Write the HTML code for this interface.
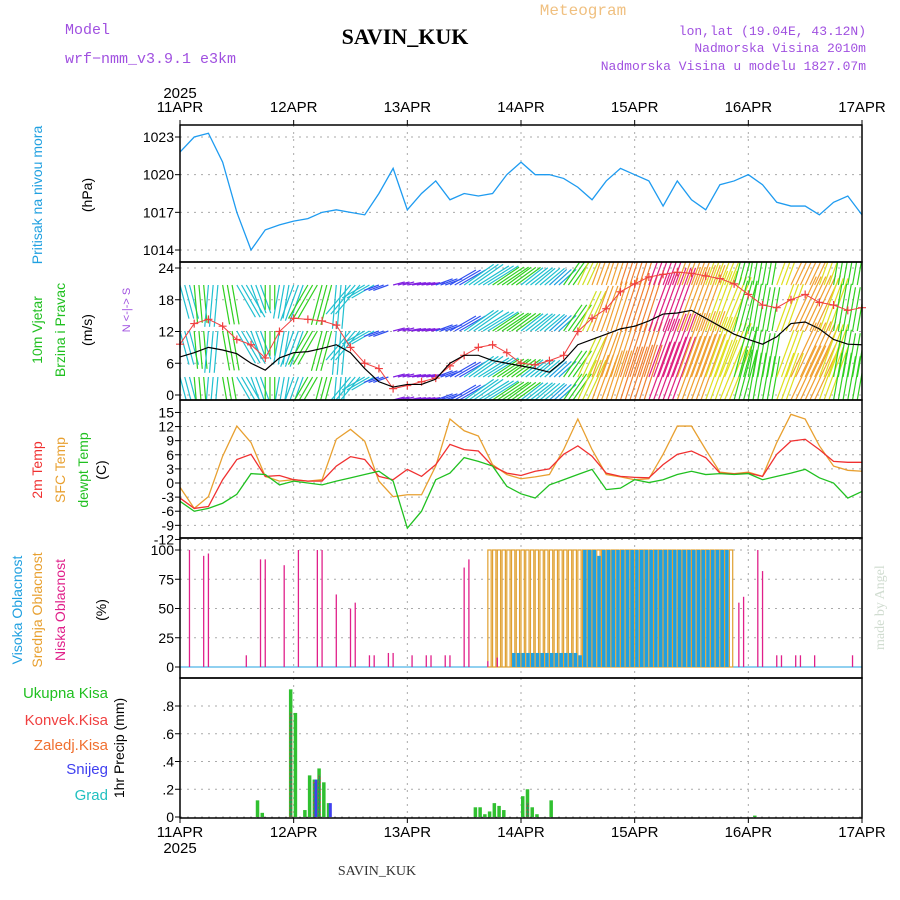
<!DOCTYPE html>
<html><head><meta charset="utf-8"><style>
body{margin:0;background:#fff;}
svg{display:block;font-family:"Liberation Sans",sans-serif;}
</style></head><body>
<svg id="c" width="900" height="900" viewBox="0 0 900 900" xmlns="http://www.w3.org/2000/svg">
<defs><clipPath id="wclip"><rect x="180" y="262" width="682" height="138"/></clipPath></defs>
<text x="65" y="34" font-size="15" fill="#a050e0" font-family="Liberation Mono,monospace">Model</text>
<text x="65" y="63" font-size="15" fill="#a050e0" font-family="Liberation Mono,monospace">wrf−nmm_v3.9.1 e3km</text>
<text x="405" y="44" font-size="22" font-weight="bold" text-anchor="middle" font-family="Liberation Serif,serif">SAVIN_KUK</text>
<text x="583" y="15" font-size="16" fill="#f0c080" text-anchor="middle" font-family="Liberation Mono,monospace">Meteogram</text>
<text x="866" y="35" font-size="13" fill="#a050e0" text-anchor="end" font-family="Liberation Mono,monospace">lon,lat (19.04E, 43.12N)</text>
<text x="866" y="52" font-size="13" fill="#a050e0" text-anchor="end" font-family="Liberation Mono,monospace">Nadmorska Visina 2010m</text>
<text x="866" y="70" font-size="13" fill="#a050e0" text-anchor="end" font-family="Liberation Mono,monospace">Nadmorska Visina u modelu 1827.07m</text>
<text x="180" y="98" font-size="15" text-anchor="middle">2025</text>
<text x="180" y="853" font-size="15" text-anchor="middle">2025</text>
<text x="377" y="875" font-size="14" text-anchor="middle" fill="#333" font-family="Liberation Serif,serif">SAVIN_KUK</text>
<text transform="translate(884,650) rotate(-90)" font-size="14" fill="#d0dcd0" font-family="Liberation Serif,serif">made by Angel</text>
<g id="g"></g>
</svg>
<script>
const dayLabels=["11APR","12APR","13APR","14APR","15APR","16APR","17APR"];
const pressure=[1021.8,1023,1023.3,1021,1017,1014,1015.6,1016,1016.3,1016.5,1017,1017.2,1017,1016.8,1018.5,1020.5,1017.2,1018.5,1019.5,1018,1018.5,1018.3,1018.5,1020,1021,1020,1020,1019.7,1019,1018,1019.5,1020.5,1020,1019.5,1017.5,1019.5,1018,1017.2,1019.2,1019.5,1020,1019.2,1017.8,1017.5,1017.5,1016.8,1017.8,1018.3,1016.8];
const windSpeed=[7.2,8,9,8.5,7.8,6,4.7,7,8,8.2,8.8,9.5,8,5,2.5,1.5,2,2,3,6,7.5,7.5,6.5,6,5.5,5,4.3,6.5,9.5,10.5,11.5,12.5,13,14,15.3,15.5,16,14.5,13,11.5,10.5,9.6,11,13.5,13.8,12.5,10.5,9.6,9.5];
const windGust=[9.6,13.5,14.3,13,10.5,9.5,7,12,14.5,14.3,14,13.2,9,6,5,1.2,1.8,2.5,3.2,5.5,7.5,9,9.5,8,6,5.7,6.5,7.5,12,14.5,16.3,19.5,21,22.3,22.8,23.2,23,22.5,22,21,19,17,16.5,18,19,17.5,17,16,16.5];
const windDir=[345,355,5,350,330,340,0,10,20,30,15,5,40,60,70,255,260,260,250,240,235,238,236,234,232,230,228,215,205,200,198,198,198,200,200,200,200,200,202,195,190,190,200,205,205,200,190,190,190];
const barbColors=["#20c0d0","#30d020","#20c0d0","#30d020","#20c0d0","#20c0d0","#30d020","#20c0d0","#20c0d0","#30d020","#30d020","#20c0d0","#20c0d0","#20c0d0","#3050f0","#8020e0","#8020e0","#8020e0","#3050f0","#3050f0","#20c0d0","#20c0d0","#30d020","#30d020","#20c0d0","#20c0d0","#20a0e0","#30d020","#d0e020","#f0a030","#f0a030","#f08030","#f08030","#e02080","#e02080","#f0a030","#f0a030","#e0e020","#e0e020","#30d020","#30d020","#30d020","#e0e020","#f0a030","#f0a030","#e0e020","#30d020","#30d020","#30d020"];
const temp2m=[-3.2,-5.4,-5,0.7,5,6.1,1.4,1.6,0.7,0.4,0.4,3.6,5.6,5,1.4,0.7,2.9,1.4,3.9,8.2,7.1,6.8,3.6,2.1,1.6,2.5,3,6.1,7.9,5.7,2.1,1.4,1.2,1.1,3.9,6.1,6.8,5.4,2.1,1.9,2.1,1.4,6.1,8.9,9.3,7.1,4.6,4.4,4.4];
const tempSfc=[-0.9,-5.4,-2.9,5.7,12.1,8.6,1.4,0.4,0.7,0.4,0.7,9.3,11.4,8.9,0.4,-2.9,-2.5,-2.5,3.6,13.6,11.1,10,3.9,1.8,0.9,1.3,1.8,7.1,13.6,7.1,1.8,1.3,0.7,0.9,6.1,12.1,12.1,7.1,2.3,2,2.3,1.4,8.6,14.6,13.6,7.9,3.6,2.7,2.5];
const dewpt=[-3.9,-6,-5.4,-4.3,-2.4,2,1.8,-0.4,0.4,0,-0.4,0.4,1.1,1.8,2.5,0.4,-9.6,-6,0.7,2.1,5.4,4.6,3.6,-0.7,-2.3,-3.2,-0.4,0.7,1.8,2.9,-1.4,-1.1,0.7,0.1,0.7,1.8,2.5,1.8,2,1.8,2,0.7,1.4,2.1,2.9,1.1,0,-3.2,-1.8];
const lowHours=[2,5,6,14,17,18,22,25,29,30,33,36,37,40,41,44,45,49,52,53,56,57,60,61,65,67,118,119,122,123,126,127,130,131,134,142];
const lowVals=[100,95,97,10,92,92,87,100,100,100,62,50,55,10,10,12,12,10,10,10,10,10,85,92,5,8,55,60,100,82,10,10,10,10,10,10];
const midStart=65;
const midVals=[100,100,100,100,100,100,100,100,100,100,100,100,100,100,100,100,100,100,100,100,100,100,100,100,100,100,100,100,100,100,100,100,100,100,100,100,100,100,100,100,100,100,100,100,100,100,100,100,100,100,100,100];
const highStart=70;
const highVals=[12,12,12,12,12,12,12,12,12,12,12,12,12,12,10,100,100,100,95,100,100,100,100,100,100,100,100,100,100,100,100,100,100,100,100,100,100,100,100,100,100,100,100,100,100,100];
const precipHours=[16,17,23,24,26,27,28,29,30,31,62,63,64,65,66,67,68,72,73,74,75,78,121];
const precipTotal=[0.12,0.03,0.92,0.75,0.05,0.3,0.27,0.35,0.25,0.1,0.07,0.07,0.02,0.04,0.1,0.08,0.05,0.15,0.2,0.07,0.02,0.12,0.01];
const precipConv=[0,0,0.75,0,0,0,0.25,0.3,0,0,0,0,0,0,0,0,0,0,0.1,0,0,0,0];
const precipSnow=[0,0,0,0,0,0,0.27,0,0,0.1,0,0,0,0,0,0,0,0,0,0,0,0,0];

const NS='http://www.w3.org/2000/svg',G=document.getElementById('g');
const X0=180,X1=862;
const xh=h=>X0+(X1-X0)*h/144;
function el(t,a,p){const e=document.createElementNS(NS,t);for(const k in a)e.setAttribute(k,a[k]);(p||G).appendChild(e);return e;}
const panels=[[125,262],[262,400],[400,538],[538,678],[678,818]];
const yP=v=>137+(1023-v)*(250-137)/9;
const yW=v=>395-v*(395-268)/24;
const yT=v=>483-v*(538-411)/27;
const yC=v=>667-v*(667-550)/100;
const yR=v=>817-v*(817-706)/0.8;
panels.forEach(([a,b])=>{
  for(let d=1;d<6;d++){const l=el('line',{x1:xh(d*24),x2:xh(d*24),y1:a,y2:b,stroke:'#aaa','stroke-dasharray':'2,5'});}
});
function hgrid(vals,f,fmt){vals.forEach(v=>{const y=f(v);
 const l=el('line',{x1:X0,x2:X1,y1:y,y2:y,stroke:'#aaa','stroke-dasharray':'2,5'});
 el('line',{x1:X0-5,x2:X0,y1:y,y2:y,stroke:'#000'});
 const t=el('text',{x:X0-6,y:y+5,'font-size':14,'text-anchor':'end'});t.textContent=fmt?fmt(v):v;});}
const pTicks=[1014,1017,1020,1023],wTicks=[0,6,12,18,24],tTicks=[-12,-9,-6,-3,0,3,6,9,12,15],cTicks=[0,25,50,75,100],rTicks=[0,0.2,0.4,0.6,0.8];
hgrid(pTicks,yP);hgrid(wTicks,yW);hgrid(tTicks,yT);hgrid(cTicks,yC);hgrid(rTicks,yR,v=>v===0?'0':String(v).replace(/^0/,''));
const line=(arr,f,col,w,name)=>{const p=el('polyline',{points:arr.map((v,i)=>xh(i*3)+','+f(v)).join(' '),fill:'none',stroke:col,'stroke-width':w||1.3});return p;};
line(pressure,yP,'#1e9bf0',1.3,'pressure-line');
// wind barbs
const WG=el('g',{'clip-path':'url(#wclip)'});
const rows=[285,331,377,400];
windDir.forEach((d,i)=>{const s=windSpeed[i];const col=barbColors[i];
 const r=d*Math.PI/180, L=Math.min(70,4*s+6);const dx=-Math.sin(r)*L, dy=Math.cos(r)*L;
 for(const ry of rows){ if(ry===400&&dy>0)continue;
  for(let k=0;k<3;k++){const x=xh(i*3+k);
  const b=el('line',{x1:x,y1:ry,x2:x+dx,y2:ry+dy,stroke:col,'stroke-width':1.2},WG);
  }}
});
line(windGust,yW,'#f04040',1,'wind-gust-line');
windGust.forEach((v,i)=>{const x=xh(i*3),y=yW(v);el('path',{d:`M${x-4},${y}h8M${x},${y-4}v8`,stroke:'#f04040','stroke-width':1.2});});
line(windSpeed,yW,'#000',1.2,'wind-speed-line');
line(tempSfc,yT,'#e8a030',1.3,'sfc-temp-line');
line(temp2m,yT,'#f03030',1.3,'temp-2m-line');
line(dewpt,yT,'#20c020',1.3,'dewpoint-line');
const bw=(X1-X0)/144;
el('line',{x1:X0,x2:X1,y1:yC(0),y2:yC(0),stroke:'#20a0e0','stroke-width':1});
midVals.forEach((v,i)=>{const x=xh(midStart+i);const r=el('rect',{x:x,y:yC(v),width:bw*0.7,height:yC(0)-yC(v),fill:'none',stroke:'#e0a030','stroke-width':1.2});});
highVals.forEach((v,i)=>{const x=xh(highStart+i);const r=el('rect',{x:x+0.5,y:yC(v),width:bw*0.75,height:yC(0)-yC(v),fill:'#20a0e0'});});
lowHours.forEach((h,i)=>{const x=xh(h);const l=el('line',{x1:x,x2:x,y1:yC(0),y2:yC(lowVals[i]),stroke:'#e0208a','stroke-width':1.3});});
precipHours.forEach((h,i)=>{const x=xh(h);
 const b=el('rect',{x:x,y:yR(precipTotal[i]),width:3.5,height:yR(0)-yR(precipTotal[i]),fill:'#30c030'});
 if(precipConv[i]>0){const c=el('rect',{x:x+1,y:yR(precipConv[i]),width:2,height:yR(0)-yR(precipConv[i]),fill:'#20a050','stroke':'#e04040','stroke-dasharray':'2,2','stroke-width':0.6});}
 if(precipSnow[i]>0){const s=el('rect',{x:x+2,y:yR(precipSnow[i]),width:3,height:yR(0)-yR(precipSnow[i]),fill:'#4040f0'});}
});
panels.forEach(([a,b])=>{const r=el('rect',{x:X0,y:a,width:X1-X0,height:b-a,fill:'none',stroke:'#000','stroke-width':1.5});});
dayLabels.forEach((d,i)=>{const x=xh(i*24);
 [[112,'top'],[837,'bottom']].forEach(([y,w])=>{const t=el('text',{x:x,y:y,'font-size':15,'text-anchor':'middle'});t.textContent=d;});
 el('line',{x1:x,x2:x,y1:120,y2:125,stroke:'#000'});el('line',{x1:x,x2:x,y1:818,y2:823,stroke:'#000'});
});
function vt(x,y,txt,col,name,size){const t=el('text',{transform:`translate(${x},${y}) rotate(-90)`,'font-size':size||14,fill:col,'text-anchor':'middle'});t.textContent=txt;}
vt(42,195,'Pritisak na nivou mora','#20a0e0','pressure-title');vt(92,195,'(hPa)','#000','pressure-unit');
vt(42,330,'10m Vjetar','#20c020','wind-title-1');vt(65,330,'Brzina i Pravac','#20c020','wind-title-2');vt(92,330,'(m/s)','#000','wind-unit');
vt(130,310,'N <-|-> S','#a050e0','wind-dir-legend',11);
vt(42,470,'2m Temp','#f03030','temp2m-title');vt(65,470,'SFC Temp','#e8a030','sfc-title');vt(88,470,'dewpt Temp','#20c020','dewpt-title');vt(106,470,'(C)','#000','temp-unit');
vt(22,610,'Visoka Oblacnost','#20a0e0','high-cloud-title');vt(42,610,'Srednja Oblacnost','#e8a030','mid-cloud-title');vt(65,610,'Niska Oblacnost','#e0208a','low-cloud-title');vt(106,610,'(%)','#000','cloud-unit');
vt(124,748,'1hr Precip (mm)','#000','precip-title');
[['Ukupna Kisa','#20c020',698],['Konvek.Kisa','#f04040',725],['Zaledj.Kisa','#f07030',750],['Snijeg','#4040f0',774],['Grad','#20c0c0',800]].forEach(([s,c,y])=>{const t=el('text',{x:108,y:y,'font-size':15,fill:c,'text-anchor':'end'});t.textContent=s;});
</script>
</body></html>
